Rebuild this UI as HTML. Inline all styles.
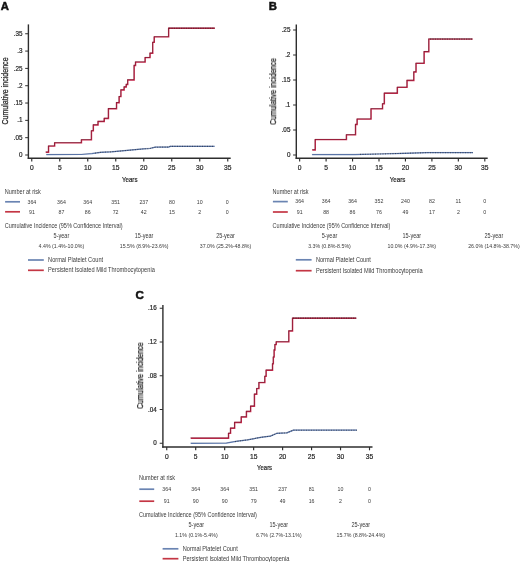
<!DOCTYPE html>
<html><head><meta charset="utf-8"><style>
html,body{margin:0;padding:0;background:#fff;}
body{width:520px;height:562px;overflow:hidden;}
svg{display:block;font-family:"Liberation Sans", sans-serif;}
text{will-change:transform;}
</style></head><body>
<svg width="520" height="562" viewBox="0 0 520 562">
<rect width="520" height="562" fill="#fff"/>
<text x="0.70" y="9.60" font-size="11.3" text-anchor="start" fill="#111" font-weight="bold" stroke="#111" stroke-width="0.5">A</text>
<line x1="28.4" y1="24.4" x2="28.4" y2="159.0" stroke="#2e2e2e" stroke-width="1.4"/>
<line x1="27.7" y1="158.3" x2="230.7" y2="158.3" stroke="#2e2e2e" stroke-width="1.4"/>
<line x1="25.2" y1="155.0" x2="28.4" y2="155.0" stroke="#2e2e2e" stroke-width="1"/>
<text x="22.50" y="157.10" font-size="6.3" text-anchor="end" fill="#262626" stroke="#262626" stroke-width="0.2">0</text>
<line x1="25.2" y1="137.68" x2="28.4" y2="137.68" stroke="#2e2e2e" stroke-width="1"/>
<text x="22.50" y="139.78" font-size="6.3" text-anchor="end" fill="#262626" stroke="#262626" stroke-width="0.2">.05</text>
<line x1="25.2" y1="120.36" x2="28.4" y2="120.36" stroke="#2e2e2e" stroke-width="1"/>
<text x="22.50" y="122.46" font-size="6.3" text-anchor="end" fill="#262626" stroke="#262626" stroke-width="0.2">.1</text>
<line x1="25.2" y1="103.04" x2="28.4" y2="103.04" stroke="#2e2e2e" stroke-width="1"/>
<text x="22.50" y="105.14" font-size="6.3" text-anchor="end" fill="#262626" stroke="#262626" stroke-width="0.2">.15</text>
<line x1="25.2" y1="85.72" x2="28.4" y2="85.72" stroke="#2e2e2e" stroke-width="1"/>
<text x="22.50" y="87.82" font-size="6.3" text-anchor="end" fill="#262626" stroke="#262626" stroke-width="0.2">.2</text>
<line x1="25.2" y1="68.4" x2="28.4" y2="68.4" stroke="#2e2e2e" stroke-width="1"/>
<text x="22.50" y="70.50" font-size="6.3" text-anchor="end" fill="#262626" stroke="#262626" stroke-width="0.2">.25</text>
<line x1="25.2" y1="51.08000000000001" x2="28.4" y2="51.08000000000001" stroke="#2e2e2e" stroke-width="1"/>
<text x="22.50" y="53.18" font-size="6.3" text-anchor="end" fill="#262626" stroke="#262626" stroke-width="0.2">.3</text>
<line x1="25.2" y1="33.76000000000002" x2="28.4" y2="33.76000000000002" stroke="#2e2e2e" stroke-width="1"/>
<text x="22.50" y="35.86" font-size="6.3" text-anchor="end" fill="#262626" stroke="#262626" stroke-width="0.2">.35</text>
<line x1="31.75" y1="158.3" x2="31.75" y2="161.60000000000002" stroke="#2e2e2e" stroke-width="1.15"/>
<text x="31.75" y="170.30" font-size="6.7" text-anchor="middle" fill="#262626" stroke="#262626" stroke-width="0.2">0</text>
<line x1="59.75" y1="158.3" x2="59.75" y2="161.60000000000002" stroke="#2e2e2e" stroke-width="1.15"/>
<text x="59.75" y="170.30" font-size="6.7" text-anchor="middle" fill="#262626" stroke="#262626" stroke-width="0.2">5</text>
<line x1="87.75" y1="158.3" x2="87.75" y2="161.60000000000002" stroke="#2e2e2e" stroke-width="1.15"/>
<text x="87.75" y="170.30" font-size="6.7" text-anchor="middle" fill="#262626" stroke="#262626" stroke-width="0.2">10</text>
<line x1="115.75" y1="158.3" x2="115.75" y2="161.60000000000002" stroke="#2e2e2e" stroke-width="1.15"/>
<text x="115.75" y="170.30" font-size="6.7" text-anchor="middle" fill="#262626" stroke="#262626" stroke-width="0.2">15</text>
<line x1="143.75" y1="158.3" x2="143.75" y2="161.60000000000002" stroke="#2e2e2e" stroke-width="1.15"/>
<text x="143.75" y="170.30" font-size="6.7" text-anchor="middle" fill="#262626" stroke="#262626" stroke-width="0.2">20</text>
<line x1="171.75" y1="158.3" x2="171.75" y2="161.60000000000002" stroke="#2e2e2e" stroke-width="1.15"/>
<text x="171.75" y="170.30" font-size="6.7" text-anchor="middle" fill="#262626" stroke="#262626" stroke-width="0.2">25</text>
<line x1="199.75" y1="158.3" x2="199.75" y2="161.60000000000002" stroke="#2e2e2e" stroke-width="1.15"/>
<text x="199.75" y="170.30" font-size="6.7" text-anchor="middle" fill="#262626" stroke="#262626" stroke-width="0.2">30</text>
<line x1="227.75" y1="158.3" x2="227.75" y2="161.60000000000002" stroke="#2e2e2e" stroke-width="1.15"/>
<text x="227.75" y="170.30" font-size="6.7" text-anchor="middle" fill="#262626" stroke="#262626" stroke-width="0.2">35</text>
<text x="129.70" y="181.50" font-size="7.6" text-anchor="middle" fill="#222" textLength="15.60" lengthAdjust="spacingAndGlyphs" stroke="#222" stroke-width="0.2">Years</text>
<text transform="translate(8.0,91.05) rotate(-90)" font-size="9.5" text-anchor="middle" fill="#222" stroke="#222" stroke-width="0.25" textLength="67.1" lengthAdjust="spacingAndGlyphs">Cumulative incidence</text>
<g transform="translate(0,0.0)">
<path d="M46.30 154.60 L81.50 154.50 L92.00 153.60 L100.80 152.30 L111.50 151.80 L122.30 150.90 L133.00 149.90 L143.80 148.90 L150.00 148.50 L155.40 147.20 L168.80 147.10 L170.20 146.40 L214.60 146.40" fill="none" stroke="#6482b8" stroke-width="1.25" stroke-linejoin="miter"/>
<path d="M46.30 154.60 L81.50 154.50 L92.00 153.60 L100.80 152.30 L111.50 151.80 L122.30 150.90 L133.00 149.90 L143.80 148.90 L150.00 148.50 L155.40 147.20 L168.80 147.10 L170.20 146.40 L214.60 146.40" fill="none" stroke="#1c2440" stroke-width="0.8" stroke-opacity="0.25" transform="translate(-0.3,-0.3)"/>
<path d="M95.00 153.16 L100.80 152.30 L111.50 151.80 L122.30 150.90 L133.00 149.90 L143.80 148.90 L150.00 148.50 L155.40 147.20 L168.80 147.10 L170.20 146.40 L214.60 146.40" fill="none" stroke="#111" stroke-width="1.1" stroke-dasharray="1 1.5" stroke-opacity="0.5"/>
</g>
<g transform="translate(0,0.35)">
<path d="M45.80 151.90 L48.60 151.90 L48.60 145.80 L54.70 145.80 L54.70 142.50 L81.50 142.50 L81.50 139.50 L91.50 139.50 L91.50 130.50 L93.40 130.50 L93.40 124.60 L98.10 124.60 L98.10 121.20 L104.30 121.20 L104.30 118.10 L108.50 118.10 L108.50 108.40 L116.60 108.40 L116.60 102.40 L119.20 102.40 L119.20 96.30 L121.00 96.30 L121.00 89.60 L124.20 89.60 L124.20 86.70 L126.30 86.70 L126.30 84.20 L127.80 84.20 L127.80 79.60 L134.20 79.60 L134.20 65.20 L135.60 65.20 L135.60 61.70 L145.20 61.70 L145.20 57.30 L150.10 57.30 L150.10 52.90 L152.80 52.90 L152.80 42.10 L154.30 42.10 L154.30 36.60 L168.70 36.60 L168.70 27.90 L214.90 27.90" fill="none" stroke="#cc2d50" stroke-width="1.35" stroke-linejoin="miter"/>
<path d="M45.80 151.90 L48.60 151.90 L48.60 145.80 L54.70 145.80 L54.70 142.50 L81.50 142.50 L81.50 139.50 L91.50 139.50 L91.50 130.50 L93.40 130.50 L93.40 124.60 L98.10 124.60 L98.10 121.20 L104.30 121.20 L104.30 118.10 L108.50 118.10 L108.50 108.40 L116.60 108.40 L116.60 102.40 L119.20 102.40 L119.20 96.30 L121.00 96.30 L121.00 89.60 L124.20 89.60 L124.20 86.70 L126.30 86.70 L126.30 84.20 L127.80 84.20 L127.80 79.60 L134.20 79.60 L134.20 65.20 L135.60 65.20 L135.60 61.70 L145.20 61.70 L145.20 57.30 L150.10 57.30 L150.10 52.90 L152.80 52.90 L152.80 42.10 L154.30 42.10 L154.30 36.60 L168.70 36.60 L168.70 27.90 L214.90 27.90" fill="none" stroke="#3a0815" stroke-width="0.8" stroke-opacity="0.5" transform="translate(-0.3,-0.3)"/>
<path d="M169.00 27.90 L214.90 27.90" fill="none" stroke="#111" stroke-width="1.2" stroke-dasharray="1.3 1.1" stroke-opacity="0.5"/>
</g>
<text x="268.80" y="9.60" font-size="11.3" text-anchor="start" fill="#111" font-weight="bold" stroke="#111" stroke-width="0.5">B</text>
<line x1="296.3" y1="24.4" x2="296.3" y2="158.89999999999998" stroke="#2e2e2e" stroke-width="1.4"/>
<line x1="295.6" y1="158.2" x2="487.7" y2="158.2" stroke="#2e2e2e" stroke-width="1.4"/>
<line x1="293.1" y1="155" x2="296.3" y2="155" stroke="#2e2e2e" stroke-width="1"/>
<text x="290.40" y="157.10" font-size="6.3" text-anchor="end" fill="#262626" stroke="#262626" stroke-width="0.2">0</text>
<line x1="293.1" y1="130.0" x2="296.3" y2="130.0" stroke="#2e2e2e" stroke-width="1"/>
<text x="290.40" y="132.10" font-size="6.3" text-anchor="end" fill="#262626" stroke="#262626" stroke-width="0.2">.05</text>
<line x1="293.1" y1="105.0" x2="296.3" y2="105.0" stroke="#2e2e2e" stroke-width="1"/>
<text x="290.40" y="107.10" font-size="6.3" text-anchor="end" fill="#262626" stroke="#262626" stroke-width="0.2">.1</text>
<line x1="293.1" y1="80.0" x2="296.3" y2="80.0" stroke="#2e2e2e" stroke-width="1"/>
<text x="290.40" y="82.10" font-size="6.3" text-anchor="end" fill="#262626" stroke="#262626" stroke-width="0.2">.15</text>
<line x1="293.1" y1="55.0" x2="296.3" y2="55.0" stroke="#2e2e2e" stroke-width="1"/>
<text x="290.40" y="57.10" font-size="6.3" text-anchor="end" fill="#262626" stroke="#262626" stroke-width="0.2">.2</text>
<line x1="293.1" y1="30.0" x2="296.3" y2="30.0" stroke="#2e2e2e" stroke-width="1"/>
<text x="290.40" y="32.10" font-size="6.3" text-anchor="end" fill="#262626" stroke="#262626" stroke-width="0.2">.25</text>
<line x1="299.65" y1="158.2" x2="299.65" y2="161.5" stroke="#2e2e2e" stroke-width="1.15"/>
<text x="299.65" y="170.30" font-size="6.7" text-anchor="middle" fill="#262626" stroke="#262626" stroke-width="0.2">0</text>
<line x1="326.09999999999997" y1="158.2" x2="326.09999999999997" y2="161.5" stroke="#2e2e2e" stroke-width="1.15"/>
<text x="326.10" y="170.30" font-size="6.7" text-anchor="middle" fill="#262626" stroke="#262626" stroke-width="0.2">5</text>
<line x1="352.54999999999995" y1="158.2" x2="352.54999999999995" y2="161.5" stroke="#2e2e2e" stroke-width="1.15"/>
<text x="352.55" y="170.30" font-size="6.7" text-anchor="middle" fill="#262626" stroke="#262626" stroke-width="0.2">10</text>
<line x1="379.0" y1="158.2" x2="379.0" y2="161.5" stroke="#2e2e2e" stroke-width="1.15"/>
<text x="379.00" y="170.30" font-size="6.7" text-anchor="middle" fill="#262626" stroke="#262626" stroke-width="0.2">15</text>
<line x1="405.45" y1="158.2" x2="405.45" y2="161.5" stroke="#2e2e2e" stroke-width="1.15"/>
<text x="405.45" y="170.30" font-size="6.7" text-anchor="middle" fill="#262626" stroke="#262626" stroke-width="0.2">20</text>
<line x1="431.9" y1="158.2" x2="431.9" y2="161.5" stroke="#2e2e2e" stroke-width="1.15"/>
<text x="431.90" y="170.30" font-size="6.7" text-anchor="middle" fill="#262626" stroke="#262626" stroke-width="0.2">25</text>
<line x1="458.34999999999997" y1="158.2" x2="458.34999999999997" y2="161.5" stroke="#2e2e2e" stroke-width="1.15"/>
<text x="458.35" y="170.30" font-size="6.7" text-anchor="middle" fill="#262626" stroke="#262626" stroke-width="0.2">30</text>
<line x1="484.79999999999995" y1="158.2" x2="484.79999999999995" y2="161.5" stroke="#2e2e2e" stroke-width="1.15"/>
<text x="484.80" y="170.30" font-size="6.7" text-anchor="middle" fill="#262626" stroke="#262626" stroke-width="0.2">35</text>
<text x="397.50" y="181.50" font-size="7.6" text-anchor="middle" fill="#222" textLength="15.60" lengthAdjust="spacingAndGlyphs" stroke="#222" stroke-width="0.2">Years</text>
<text transform="translate(276.0,91.55) rotate(-90)" font-size="9.5" text-anchor="middle" fill="#222" stroke="#222" stroke-width="0.25" textLength="66.7" lengthAdjust="spacingAndGlyphs">Cumulative incidence</text>
<g transform="translate(0,0.0)">
<path d="M312.10 154.60 L355.00 154.50 L380.00 154.00 L405.00 153.30 L428.00 152.70 L473.00 152.70" fill="none" stroke="#6482b8" stroke-width="1.25" stroke-linejoin="miter"/>
<path d="M312.10 154.60 L355.00 154.50 L380.00 154.00 L405.00 153.30 L428.00 152.70 L473.00 152.70" fill="none" stroke="#1c2440" stroke-width="0.8" stroke-opacity="0.25" transform="translate(-0.3,-0.3)"/>
<path d="M360.00 154.40 L380.00 154.00 L405.00 153.30 L428.00 152.70 L473.00 152.70" fill="none" stroke="#111" stroke-width="1.1" stroke-dasharray="1 1.5" stroke-opacity="0.5"/>
</g>
<g transform="translate(0,0.35)">
<path d="M312.30 149.60 L315.30 149.60 L315.30 139.30 L346.50 139.30 L346.50 134.50 L355.60 134.50 L355.60 124.20 L357.20 124.20 L357.20 118.80 L371.10 118.80 L371.10 108.50 L382.60 108.50 L382.60 103.50 L384.40 103.50 L384.40 92.90 L397.40 92.90 L397.40 87.00 L407.10 87.00 L407.10 80.10 L413.90 80.10 L413.90 71.70 L416.10 71.70 L416.10 63.00 L424.20 63.00 L424.20 51.40 L428.90 51.40 L428.90 38.70 L472.70 38.70" fill="none" stroke="#cc2d50" stroke-width="1.35" stroke-linejoin="miter"/>
<path d="M312.30 149.60 L315.30 149.60 L315.30 139.30 L346.50 139.30 L346.50 134.50 L355.60 134.50 L355.60 124.20 L357.20 124.20 L357.20 118.80 L371.10 118.80 L371.10 108.50 L382.60 108.50 L382.60 103.50 L384.40 103.50 L384.40 92.90 L397.40 92.90 L397.40 87.00 L407.10 87.00 L407.10 80.10 L413.90 80.10 L413.90 71.70 L416.10 71.70 L416.10 63.00 L424.20 63.00 L424.20 51.40 L428.90 51.40 L428.90 38.70 L472.70 38.70" fill="none" stroke="#3a0815" stroke-width="0.8" stroke-opacity="0.5" transform="translate(-0.3,-0.3)"/>
<path d="M430.00 38.70 L472.70 38.70" fill="none" stroke="#111" stroke-width="1.2" stroke-dasharray="1.3 1.1" stroke-opacity="0.5"/>
</g>
<text x="135.40" y="298.60" font-size="11.6" text-anchor="start" fill="#111" font-weight="bold" stroke="#111" stroke-width="0.5">C</text>
<line x1="162.9" y1="305" x2="162.9" y2="447.7" stroke="#2e2e2e" stroke-width="1.4"/>
<line x1="162.20000000000002" y1="447.0" x2="372.5" y2="447.0" stroke="#2e2e2e" stroke-width="1.4"/>
<line x1="159.70000000000002" y1="443.25" x2="162.9" y2="443.25" stroke="#2e2e2e" stroke-width="1"/>
<text x="156.80" y="445.35" font-size="6.3" text-anchor="end" fill="#262626" stroke="#262626" stroke-width="0.2">0</text>
<line x1="159.70000000000002" y1="409.5" x2="162.9" y2="409.5" stroke="#2e2e2e" stroke-width="1"/>
<text x="156.80" y="411.60" font-size="6.3" text-anchor="end" fill="#262626" stroke="#262626" stroke-width="0.2">.04</text>
<line x1="159.70000000000002" y1="375.75" x2="162.9" y2="375.75" stroke="#2e2e2e" stroke-width="1"/>
<text x="156.80" y="377.85" font-size="6.3" text-anchor="end" fill="#262626" stroke="#262626" stroke-width="0.2">.08</text>
<line x1="159.70000000000002" y1="342.0" x2="162.9" y2="342.0" stroke="#2e2e2e" stroke-width="1"/>
<text x="156.80" y="344.10" font-size="6.3" text-anchor="end" fill="#262626" stroke="#262626" stroke-width="0.2">.12</text>
<line x1="159.70000000000002" y1="308.25" x2="162.9" y2="308.25" stroke="#2e2e2e" stroke-width="1"/>
<text x="156.80" y="310.35" font-size="6.3" text-anchor="end" fill="#262626" stroke="#262626" stroke-width="0.2">.16</text>
<line x1="166.75" y1="447.0" x2="166.75" y2="450.3" stroke="#2e2e2e" stroke-width="1.15"/>
<text x="166.75" y="459.00" font-size="6.7" text-anchor="middle" fill="#262626" stroke="#262626" stroke-width="0.2">0</text>
<line x1="195.715" y1="447.0" x2="195.715" y2="450.3" stroke="#2e2e2e" stroke-width="1.15"/>
<text x="195.72" y="459.00" font-size="6.7" text-anchor="middle" fill="#262626" stroke="#262626" stroke-width="0.2">5</text>
<line x1="224.68" y1="447.0" x2="224.68" y2="450.3" stroke="#2e2e2e" stroke-width="1.15"/>
<text x="224.68" y="459.00" font-size="6.7" text-anchor="middle" fill="#262626" stroke="#262626" stroke-width="0.2">10</text>
<line x1="253.64499999999998" y1="447.0" x2="253.64499999999998" y2="450.3" stroke="#2e2e2e" stroke-width="1.15"/>
<text x="253.64" y="459.00" font-size="6.7" text-anchor="middle" fill="#262626" stroke="#262626" stroke-width="0.2">15</text>
<line x1="282.61" y1="447.0" x2="282.61" y2="450.3" stroke="#2e2e2e" stroke-width="1.15"/>
<text x="282.61" y="459.00" font-size="6.7" text-anchor="middle" fill="#262626" stroke="#262626" stroke-width="0.2">20</text>
<line x1="311.57500000000005" y1="447.0" x2="311.57500000000005" y2="450.3" stroke="#2e2e2e" stroke-width="1.15"/>
<text x="311.58" y="459.00" font-size="6.7" text-anchor="middle" fill="#262626" stroke="#262626" stroke-width="0.2">25</text>
<line x1="340.53999999999996" y1="447.0" x2="340.53999999999996" y2="450.3" stroke="#2e2e2e" stroke-width="1.15"/>
<text x="340.54" y="459.00" font-size="6.7" text-anchor="middle" fill="#262626" stroke="#262626" stroke-width="0.2">30</text>
<line x1="369.505" y1="447.0" x2="369.505" y2="450.3" stroke="#2e2e2e" stroke-width="1.15"/>
<text x="369.50" y="459.00" font-size="6.7" text-anchor="middle" fill="#262626" stroke="#262626" stroke-width="0.2">35</text>
<text x="264.60" y="469.80" font-size="7.6" text-anchor="middle" fill="#222" textLength="15.00" lengthAdjust="spacingAndGlyphs" stroke="#222" stroke-width="0.2">Years</text>
<text transform="translate(143.0,375.6) rotate(-90)" font-size="9.5" text-anchor="middle" fill="#222" stroke="#222" stroke-width="0.25" textLength="66.4" lengthAdjust="spacingAndGlyphs">Cumulative incidence</text>
<g transform="translate(0,0.5)">
<path d="M190.75 442.80 L226.40 442.70 L236.20 440.90 L247.70 439.40 L260.80 436.90 L270.60 435.60 L277.10 432.80 L286.90 432.40 L293.50 429.70 L357.00 429.70" fill="none" stroke="#6482b8" stroke-width="1.25" stroke-linejoin="miter"/>
<path d="M190.75 442.80 L226.40 442.70 L236.20 440.90 L247.70 439.40 L260.80 436.90 L270.60 435.60 L277.10 432.80 L286.90 432.40 L293.50 429.70 L357.00 429.70" fill="none" stroke="#1c2440" stroke-width="0.8" stroke-opacity="0.25" transform="translate(-0.3,-0.3)"/>
<path d="M235.00 441.12 L236.20 440.90 L247.70 439.40 L260.80 436.90 L270.60 435.60 L277.10 432.80 L286.90 432.40 L293.50 429.70 L357.00 429.70" fill="none" stroke="#111" stroke-width="1.1" stroke-dasharray="1 1.5" stroke-opacity="0.5"/>
</g>
<g transform="translate(0,0.6)">
<path d="M190.75 437.60 L228.60 437.60 L228.60 432.70 L230.60 432.70 L230.60 427.60 L234.70 427.60 L234.70 421.90 L241.30 421.90 L241.30 416.40 L246.50 416.40 L246.50 410.90 L250.70 410.90 L250.70 405.60 L254.50 405.60 L254.50 393.60 L256.80 393.60 L256.80 388.00 L259.00 388.00 L259.00 382.00 L264.90 382.00 L264.90 375.80 L266.20 375.80 L266.20 369.60 L272.60 369.60 L272.60 363.30 L273.40 363.30 L273.40 356.50 L274.20 356.50 L274.20 349.40 L275.00 349.40 L275.00 344.00 L276.30 344.00 L276.30 341.30 L288.90 341.30 L288.90 330.40 L292.60 330.40 L292.60 317.60 L356.30 317.60" fill="none" stroke="#cc2d50" stroke-width="1.35" stroke-linejoin="miter"/>
<path d="M190.75 437.60 L228.60 437.60 L228.60 432.70 L230.60 432.70 L230.60 427.60 L234.70 427.60 L234.70 421.90 L241.30 421.90 L241.30 416.40 L246.50 416.40 L246.50 410.90 L250.70 410.90 L250.70 405.60 L254.50 405.60 L254.50 393.60 L256.80 393.60 L256.80 388.00 L259.00 388.00 L259.00 382.00 L264.90 382.00 L264.90 375.80 L266.20 375.80 L266.20 369.60 L272.60 369.60 L272.60 363.30 L273.40 363.30 L273.40 356.50 L274.20 356.50 L274.20 349.40 L275.00 349.40 L275.00 344.00 L276.30 344.00 L276.30 341.30 L288.90 341.30 L288.90 330.40 L292.60 330.40 L292.60 317.60 L356.30 317.60" fill="none" stroke="#3a0815" stroke-width="0.8" stroke-opacity="0.5" transform="translate(-0.3,-0.3)"/>
<path d="M293.00 317.60 L356.30 317.60" fill="none" stroke="#111" stroke-width="1.2" stroke-dasharray="1.3 1.1" stroke-opacity="0.5"/>
</g>
<text x="4.80" y="193.90" font-size="6.4" text-anchor="start" fill="#3a3a3a" textLength="36.00" lengthAdjust="spacingAndGlyphs" >Number at risk</text>
<line x1="5.1" y1="201.8" x2="20.0" y2="201.8" stroke="#6a84b2" stroke-width="1.7"/>
<line x1="5.1" y1="211.8" x2="20.0" y2="211.8" stroke="#c43644" stroke-width="1.7"/>
<text transform="translate(31.90,203.60) scale(0.85,1)" font-size="6.2" text-anchor="middle" fill="#3a3a3a" >364</text>
<text transform="translate(61.50,203.60) scale(0.85,1)" font-size="6.2" text-anchor="middle" fill="#3a3a3a" >364</text>
<text transform="translate(87.70,203.60) scale(0.85,1)" font-size="6.2" text-anchor="middle" fill="#3a3a3a" >364</text>
<text transform="translate(115.60,203.60) scale(0.85,1)" font-size="6.2" text-anchor="middle" fill="#3a3a3a" >351</text>
<text transform="translate(143.80,203.60) scale(0.85,1)" font-size="6.2" text-anchor="middle" fill="#3a3a3a" >237</text>
<text transform="translate(171.90,203.60) scale(0.85,1)" font-size="6.2" text-anchor="middle" fill="#3a3a3a" >80</text>
<text transform="translate(199.70,203.60) scale(0.85,1)" font-size="6.2" text-anchor="middle" fill="#3a3a3a" >10</text>
<text transform="translate(227.20,203.60) scale(0.85,1)" font-size="6.2" text-anchor="middle" fill="#3a3a3a" >0</text>
<text transform="translate(31.90,213.60) scale(0.85,1)" font-size="6.2" text-anchor="middle" fill="#3a3a3a" >91</text>
<text transform="translate(61.50,213.60) scale(0.85,1)" font-size="6.2" text-anchor="middle" fill="#3a3a3a" >87</text>
<text transform="translate(87.70,213.60) scale(0.85,1)" font-size="6.2" text-anchor="middle" fill="#3a3a3a" >86</text>
<text transform="translate(115.60,213.60) scale(0.85,1)" font-size="6.2" text-anchor="middle" fill="#3a3a3a" >72</text>
<text transform="translate(143.80,213.60) scale(0.85,1)" font-size="6.2" text-anchor="middle" fill="#3a3a3a" >42</text>
<text transform="translate(171.90,213.60) scale(0.85,1)" font-size="6.2" text-anchor="middle" fill="#3a3a3a" >15</text>
<text transform="translate(199.70,213.60) scale(0.85,1)" font-size="6.2" text-anchor="middle" fill="#3a3a3a" >2</text>
<text transform="translate(227.20,213.60) scale(0.85,1)" font-size="6.2" text-anchor="middle" fill="#3a3a3a" >0</text>
<text x="4.80" y="227.80" font-size="6.4" text-anchor="start" fill="#3a3a3a" textLength="117.80" lengthAdjust="spacingAndGlyphs" >Cumulative Incidence (95% Confidence Interval)</text>
<text transform="translate(61.40,238.00) scale(0.862,1)" font-size="6.4" text-anchor="middle" fill="#3a3a3a" >5-year</text>
<text transform="translate(61.40,248.00) scale(0.85,1)" font-size="6.2" text-anchor="middle" fill="#3a3a3a" >4.4% (1.4%-10.0%)</text>
<text transform="translate(144.10,238.00) scale(0.862,1)" font-size="6.4" text-anchor="middle" fill="#3a3a3a" >15-year</text>
<text transform="translate(144.10,248.00) scale(0.85,1)" font-size="6.2" text-anchor="middle" fill="#3a3a3a" >15.5% (8.9%-23.6%)</text>
<text transform="translate(225.50,238.00) scale(0.862,1)" font-size="6.4" text-anchor="middle" fill="#3a3a3a" >25-year</text>
<text transform="translate(225.50,248.00) scale(0.85,1)" font-size="6.2" text-anchor="middle" fill="#3a3a3a" >37.0% (25.2%-48.8%)</text>
<line x1="28.0" y1="260" x2="43.8" y2="260" stroke="#6a84b2" stroke-width="1.7"/>
<line x1="28.0" y1="270.3" x2="43.8" y2="270.3" stroke="#c43644" stroke-width="1.7"/>
<text x="48.10" y="262.00" font-size="6.4" text-anchor="start" fill="#3a3a3a" textLength="55.00" lengthAdjust="spacingAndGlyphs" >Normal Platelet Count</text>
<text x="48.10" y="272.20" font-size="6.4" text-anchor="start" fill="#3a3a3a" textLength="106.70" lengthAdjust="spacingAndGlyphs" >Persistent Isolated Mild Thrombocytopenia</text>
<text x="272.60" y="194.00" font-size="6.4" text-anchor="start" fill="#3a3a3a" textLength="36.00" lengthAdjust="spacingAndGlyphs" >Number at risk</text>
<line x1="272.90000000000003" y1="201.6" x2="287.8" y2="201.6" stroke="#6a84b2" stroke-width="1.7"/>
<line x1="272.90000000000003" y1="212.0" x2="287.8" y2="212.0" stroke="#c43644" stroke-width="1.7"/>
<text transform="translate(299.65,203.40) scale(0.85,1)" font-size="6.2" text-anchor="middle" fill="#3a3a3a" >364</text>
<text transform="translate(326.10,203.40) scale(0.85,1)" font-size="6.2" text-anchor="middle" fill="#3a3a3a" >364</text>
<text transform="translate(352.55,203.40) scale(0.85,1)" font-size="6.2" text-anchor="middle" fill="#3a3a3a" >364</text>
<text transform="translate(379.00,203.40) scale(0.85,1)" font-size="6.2" text-anchor="middle" fill="#3a3a3a" >352</text>
<text transform="translate(405.45,203.40) scale(0.85,1)" font-size="6.2" text-anchor="middle" fill="#3a3a3a" >240</text>
<text transform="translate(431.90,203.40) scale(0.85,1)" font-size="6.2" text-anchor="middle" fill="#3a3a3a" >82</text>
<text transform="translate(458.35,203.40) scale(0.85,1)" font-size="6.2" text-anchor="middle" fill="#3a3a3a" >11</text>
<text transform="translate(484.80,203.40) scale(0.85,1)" font-size="6.2" text-anchor="middle" fill="#3a3a3a" >0</text>
<text transform="translate(299.65,213.80) scale(0.85,1)" font-size="6.2" text-anchor="middle" fill="#3a3a3a" >91</text>
<text transform="translate(326.10,213.80) scale(0.85,1)" font-size="6.2" text-anchor="middle" fill="#3a3a3a" >88</text>
<text transform="translate(352.55,213.80) scale(0.85,1)" font-size="6.2" text-anchor="middle" fill="#3a3a3a" >86</text>
<text transform="translate(379.00,213.80) scale(0.85,1)" font-size="6.2" text-anchor="middle" fill="#3a3a3a" >76</text>
<text transform="translate(405.45,213.80) scale(0.85,1)" font-size="6.2" text-anchor="middle" fill="#3a3a3a" >49</text>
<text transform="translate(431.90,213.80) scale(0.85,1)" font-size="6.2" text-anchor="middle" fill="#3a3a3a" >17</text>
<text transform="translate(458.35,213.80) scale(0.85,1)" font-size="6.2" text-anchor="middle" fill="#3a3a3a" >2</text>
<text transform="translate(484.80,213.80) scale(0.85,1)" font-size="6.2" text-anchor="middle" fill="#3a3a3a" >0</text>
<text x="272.60" y="227.70" font-size="6.4" text-anchor="start" fill="#3a3a3a" textLength="117.80" lengthAdjust="spacingAndGlyphs" >Cumulative Incidence (95% Confidence Interval)</text>
<text transform="translate(329.50,237.90) scale(0.862,1)" font-size="6.4" text-anchor="middle" fill="#3a3a3a" >5-year</text>
<text transform="translate(329.50,247.60) scale(0.85,1)" font-size="6.2" text-anchor="middle" fill="#3a3a3a" >3.3% (0.8%-8.5%)</text>
<text transform="translate(411.80,237.90) scale(0.862,1)" font-size="6.4" text-anchor="middle" fill="#3a3a3a" >15-year</text>
<text transform="translate(411.80,247.60) scale(0.85,1)" font-size="6.2" text-anchor="middle" fill="#3a3a3a" >10.0% (4.9%-17.3%)</text>
<text transform="translate(493.90,237.90) scale(0.862,1)" font-size="6.4" text-anchor="middle" fill="#3a3a3a" >25-year</text>
<text transform="translate(493.90,247.60) scale(0.85,1)" font-size="6.2" text-anchor="middle" fill="#3a3a3a" >26.0% (14.8%-38.7%)</text>
<line x1="295.8" y1="259.8" x2="311.6" y2="259.8" stroke="#6a84b2" stroke-width="1.7"/>
<line x1="295.8" y1="270.7" x2="311.6" y2="270.7" stroke="#c43644" stroke-width="1.7"/>
<text x="315.90" y="261.80" font-size="6.4" text-anchor="start" fill="#3a3a3a" textLength="55.00" lengthAdjust="spacingAndGlyphs" >Normal Platelet Count</text>
<text x="315.90" y="272.60" font-size="6.4" text-anchor="start" fill="#3a3a3a" textLength="106.70" lengthAdjust="spacingAndGlyphs" >Persistent Isolated Mild Thrombocytopenia</text>
<text x="139.00" y="480.40" font-size="6.4" text-anchor="start" fill="#3a3a3a" textLength="36.00" lengthAdjust="spacingAndGlyphs" >Number at risk</text>
<line x1="139.3" y1="489.2" x2="154.2" y2="489.2" stroke="#6a84b2" stroke-width="1.7"/>
<line x1="139.3" y1="501.2" x2="154.2" y2="501.2" stroke="#c43644" stroke-width="1.7"/>
<text transform="translate(166.75,491.00) scale(0.85,1)" font-size="6.2" text-anchor="middle" fill="#3a3a3a" >364</text>
<text transform="translate(195.72,491.00) scale(0.85,1)" font-size="6.2" text-anchor="middle" fill="#3a3a3a" >364</text>
<text transform="translate(224.68,491.00) scale(0.85,1)" font-size="6.2" text-anchor="middle" fill="#3a3a3a" >364</text>
<text transform="translate(253.64,491.00) scale(0.85,1)" font-size="6.2" text-anchor="middle" fill="#3a3a3a" >351</text>
<text transform="translate(282.61,491.00) scale(0.85,1)" font-size="6.2" text-anchor="middle" fill="#3a3a3a" >237</text>
<text transform="translate(311.58,491.00) scale(0.85,1)" font-size="6.2" text-anchor="middle" fill="#3a3a3a" >81</text>
<text transform="translate(340.54,491.00) scale(0.85,1)" font-size="6.2" text-anchor="middle" fill="#3a3a3a" >10</text>
<text transform="translate(369.50,491.00) scale(0.85,1)" font-size="6.2" text-anchor="middle" fill="#3a3a3a" >0</text>
<text transform="translate(166.75,503.00) scale(0.85,1)" font-size="6.2" text-anchor="middle" fill="#3a3a3a" >91</text>
<text transform="translate(195.72,503.00) scale(0.85,1)" font-size="6.2" text-anchor="middle" fill="#3a3a3a" >90</text>
<text transform="translate(224.68,503.00) scale(0.85,1)" font-size="6.2" text-anchor="middle" fill="#3a3a3a" >90</text>
<text transform="translate(253.64,503.00) scale(0.85,1)" font-size="6.2" text-anchor="middle" fill="#3a3a3a" >79</text>
<text transform="translate(282.61,503.00) scale(0.85,1)" font-size="6.2" text-anchor="middle" fill="#3a3a3a" >49</text>
<text transform="translate(311.58,503.00) scale(0.85,1)" font-size="6.2" text-anchor="middle" fill="#3a3a3a" >16</text>
<text transform="translate(340.54,503.00) scale(0.85,1)" font-size="6.2" text-anchor="middle" fill="#3a3a3a" >2</text>
<text transform="translate(369.50,503.00) scale(0.85,1)" font-size="6.2" text-anchor="middle" fill="#3a3a3a" >0</text>
<text x="139.00" y="516.80" font-size="6.4" text-anchor="start" fill="#3a3a3a" textLength="117.80" lengthAdjust="spacingAndGlyphs" >Cumulative Incidence (95% Confidence Interval)</text>
<text transform="translate(196.30,526.90) scale(0.862,1)" font-size="6.4" text-anchor="middle" fill="#3a3a3a" >5-year</text>
<text transform="translate(196.30,537.00) scale(0.85,1)" font-size="6.2" text-anchor="middle" fill="#3a3a3a" >1.1% (0.1%-5.4%)</text>
<text transform="translate(278.80,526.90) scale(0.862,1)" font-size="6.4" text-anchor="middle" fill="#3a3a3a" >15-year</text>
<text transform="translate(278.80,537.00) scale(0.85,1)" font-size="6.2" text-anchor="middle" fill="#3a3a3a" >6.7% (2.7%-13.1%)</text>
<text transform="translate(360.80,526.90) scale(0.862,1)" font-size="6.4" text-anchor="middle" fill="#3a3a3a" >25-year</text>
<text transform="translate(360.80,537.00) scale(0.85,1)" font-size="6.2" text-anchor="middle" fill="#3a3a3a" >15.7% (8.8%-24.4%)</text>
<line x1="162.6" y1="548.8" x2="178.4" y2="548.8" stroke="#6a84b2" stroke-width="1.7"/>
<line x1="162.6" y1="558.7" x2="178.4" y2="558.7" stroke="#c43644" stroke-width="1.7"/>
<text x="182.70" y="550.80" font-size="6.4" text-anchor="start" fill="#3a3a3a" textLength="55.00" lengthAdjust="spacingAndGlyphs" >Normal Platelet Count</text>
<text x="182.70" y="560.60" font-size="6.4" text-anchor="start" fill="#3a3a3a" textLength="106.70" lengthAdjust="spacingAndGlyphs" >Persistent Isolated Mild Thrombocytopenia</text>
</svg>
</body></html>
